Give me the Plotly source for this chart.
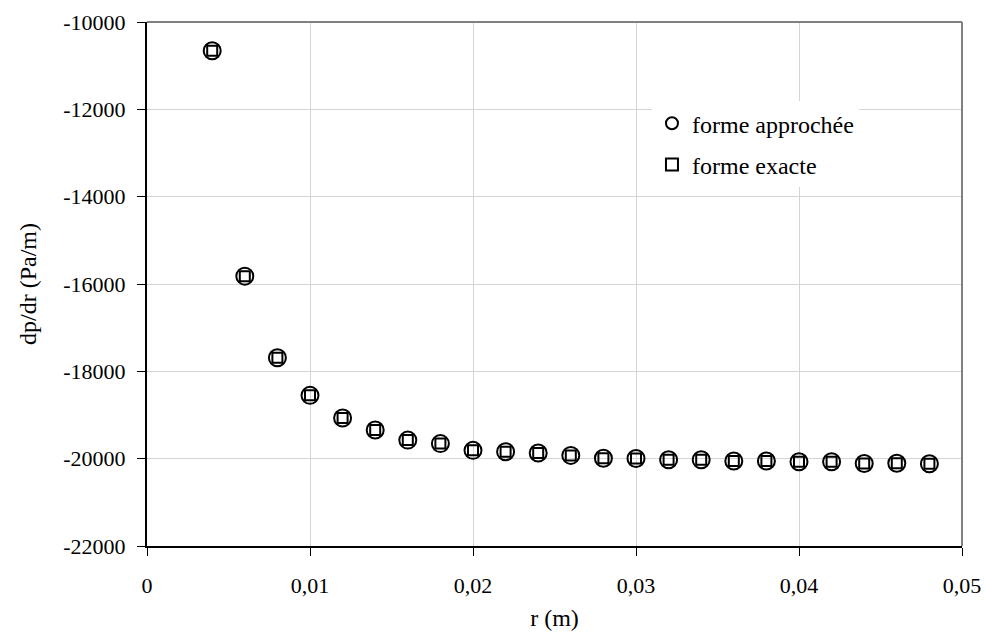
import plotly.graph_objects as go

r_values = [0.004, 0.006, 0.008, 0.010, 0.012, 0.014, 0.016, 0.018, 0.020, 0.022,
            0.024, 0.026, 0.028, 0.030, 0.032, 0.034, 0.036, 0.038, 0.040, 0.042,
            0.044, 0.046, 0.048]
dpdr_approx = [-10660, -15820, -17690, -18550, -19070, -19345, -19575, -19655, -19810, -19840,
               -19870, -19925, -19990, -19995, -20025, -20025, -20055, -20055, -20070, -20070,
               -20110, -20105, -20115]
dpdr_exact = [-10660, -15820, -17690, -18550, -19070, -19345, -19575, -19655, -19810, -19840,
              -19870, -19925, -19990, -19995, -20025, -20025, -20055, -20055, -20070, -20070,
              -20110, -20105, -20115]

x_ticks = [0, 0.01, 0.02, 0.03, 0.04, 0.05]
y_ticks = [-22000, -20000, -18000, -16000, -14000, -12000, -10000]
x_ticktext = ["0" if v == 0 else f"{v:.2f}".replace(".", ",") for v in x_ticks]
y_ticktext = [str(v) for v in y_ticks]

FONT = "Liberation Serif, Times New Roman, serif"

fig = go.Figure()
fig.add_trace(go.Scatter(
    x=r_values, y=dpdr_approx, mode="markers", name="forme approchée",
    legendgroup="a",
    marker=dict(symbol="circle-open", size=17, color="black", line=dict(width=2, color="black")),
))
fig.add_trace(go.Scatter(
    x=r_values, y=dpdr_exact, mode="markers", name="forme exacte",
    legendgroup="b",
    marker=dict(symbol="square-open", size=10, color="black", line=dict(width=2, color="black")),
))

fig.update_layout(
    width=985, height=632,
    margin=dict(l=147, r=23, t=22, b=86),
    paper_bgcolor="white", plot_bgcolor="white",
    font=dict(family=FONT, size=22, color="black"),
    showlegend=True,
    legend=dict(
        x=0.6196, y=0.849, xanchor="left", yanchor="top",
        bgcolor="white", borderwidth=0,
        font=dict(family=FONT, size=24, color="black"),
        traceorder="grouped", tracegroupgap=7,
        itemsizing="constant",
    ),
    xaxis=dict(
        range=[0, 0.05], tickvals=x_ticks, ticktext=x_ticktext,
        showgrid=True, gridcolor="#d4d4d4", gridwidth=1,
        showline=True, linecolor="black", linewidth=2,
        ticks="outside", ticklen=8, tickwidth=1, tickcolor="black",
        zeroline=False, automargin=False,
        tickfont=dict(family=FONT, size=22),
        title=dict(text="r (m)", font=dict(family=FONT, size=24), standoff=12),
        ticklabelstandoff=11, ticklabeloverflow="allow",
    ),
    yaxis=dict(
        range=[-22000, -10000], tickvals=y_ticks, ticktext=y_ticktext,
        showgrid=True, gridcolor="#d4d4d4", gridwidth=1,
        showline=True, linecolor="black", linewidth=2,
        ticks="outside", ticklen=8, tickwidth=1, tickcolor="black",
        zeroline=False, automargin=False,
        tickfont=dict(family=FONT, size=22),
        title=dict(text="dp/dr (Pa/m)", font=dict(family=FONT, size=24), standoff=20),
        ticklabelstandoff=7,
    ),
)

# grey top and right frame of the plot area
fig.add_shape(type="line", xref="paper", yref="paper", x0=0, x1=1, y0=1, y1=1,
              line=dict(color="#808080", width=2))
fig.add_shape(type="line", xref="paper", yref="paper", x0=1, x1=1, y0=0, y1=1,
              line=dict(color="#808080", width=2))

fig.write_html("out.html", config={"displayModeBar": False},
               post_script="document.body.style.margin='0';")
